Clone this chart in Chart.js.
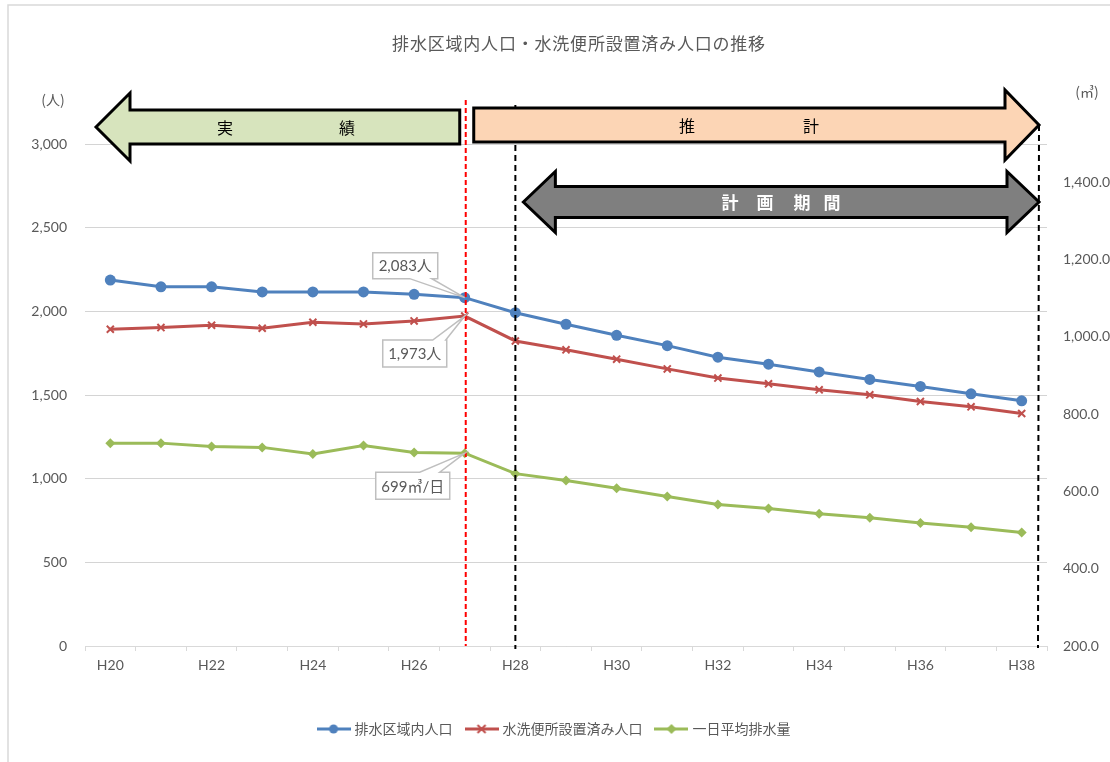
<!DOCTYPE html>
<html lang="ja">
<head>
<meta charset="utf-8">
<title>排水区域内人口・水洗便所設置済み人口の推移</title>
<script src="https://cdn.jsdelivr.net/npm/chart.js@4.4.1/dist/chart.umd.min.js"></script>
<style>
  html, body { margin: 0; padding: 0; background: #fff; }
  #wrap { position: relative; width: 1110px; height: 762px; }
</style>
</head>
<body>
<div id="wrap"><canvas id="trendChart"></canvas></div>
<script>
// ---- data ----
const years = ['H20', 'H21', 'H22', 'H23', 'H24', 'H25', 'H26', 'H27', 'H28', 'H29',
  'H30', 'H31', 'H32', 'H33', 'H34', 'H35', 'H36', 'H37', 'H38'];
// 排水区域内人口 (人)
const areaPopulation = [2188, 2148, 2148, 2117, 2117, 2117, 2103, 2083, 1993, 1924,
  1858, 1796, 1727, 1685, 1639, 1594, 1552, 1508, 1466];
// 水洗便所設置済み人口 (人)
const flushPopulation = [1894, 1904, 1918, 1900, 1936, 1926, 1944, 1973, 1824, 1771,
  1715, 1657, 1602, 1568, 1532, 1502, 1462, 1430, 1390];
// 一日平均排水量 (㎥)
const dailyFlow = [725, 725, 716, 714, 697, 719, 701, 699, 646, 628,
  608, 587, 566, 556, 542, 532, 518, 507, 494];

const seriesNames = ['排水区域内人口', '水洗便所設置済み人口', '一日平均排水量'];
const leftTicks = [0, 500, 1000, 1500, 2000, 2500, 3000];
const rightTicks = [200, 400, 600, 800, 1000, 1200, 1400];
const lastActualIndex = 7;   // H27
const firstPlanIndex = 8;    // H28

const FONT = "Lato, 'Noto Sans CJK JP', sans-serif";
const JP = "'Noto Sans CJK JP', sans-serif";
const GREY = '#595959';
const colors = ['#4f81bd', '#c0504d', '#9bbb59'];

// small legend icons: line with marker
function legendIcon(color, marker) {
  const c = document.createElement('canvas');
  c.width = 34; c.height = 12;
  const g = c.getContext('2d');
  g.strokeStyle = color; g.fillStyle = color; g.lineWidth = 3;
  g.beginPath(); g.moveTo(0, 6); g.lineTo(34, 6); g.stroke();
  if (marker === 'circle') {
    g.beginPath(); g.arc(17, 6, 4.5, 0, Math.PI * 2); g.fill();
  } else if (marker === 'cross') {
    g.lineWidth = 2;
    g.beginPath(); g.moveTo(13, 2); g.lineTo(21, 10); g.moveTo(21, 2); g.lineTo(13, 10); g.stroke();
  } else {
    g.beginPath(); g.moveTo(17, 1); g.lineTo(22, 6); g.lineTo(17, 11); g.lineTo(12, 6); g.closePath(); g.fill();
  }
  return c;
}
const icons = [legendIcon(colors[0], 'circle'), legendIcon(colors[1], 'cross'), legendIcon(colors[2], 'diamond')];

// arrow helpers
function arrow(ctx, x0, x1, cy, bh, hh, hl, dir, fill) {
  ctx.beginPath();
  if (dir === 'left') {
    ctx.moveTo(x0, cy);
    ctx.lineTo(x0 + hl, cy - hh); ctx.lineTo(x0 + hl, cy - bh);
    ctx.lineTo(x1, cy - bh); ctx.lineTo(x1, cy + bh);
    ctx.lineTo(x0 + hl, cy + bh); ctx.lineTo(x0 + hl, cy + hh);
  } else if (dir === 'right') {
    ctx.moveTo(x0, cy - bh);
    ctx.lineTo(x1 - hl, cy - bh); ctx.lineTo(x1 - hl, cy - hh);
    ctx.lineTo(x1, cy);
    ctx.lineTo(x1 - hl, cy + hh); ctx.lineTo(x1 - hl, cy + bh);
    ctx.lineTo(x0, cy + bh);
  } else {
    ctx.moveTo(x0, cy);
    ctx.lineTo(x0 + hl, cy - hh); ctx.lineTo(x0 + hl, cy - bh);
    ctx.lineTo(x1 - hl, cy - bh); ctx.lineTo(x1 - hl, cy - hh);
    ctx.lineTo(x1, cy);
    ctx.lineTo(x1 - hl, cy + hh); ctx.lineTo(x1 - hl, cy + bh);
    ctx.lineTo(x0 + hl, cy + bh); ctx.lineTo(x0 + hl, cy + hh);
  }
  ctx.closePath();
  ctx.fillStyle = fill;
  ctx.fill();
  ctx.lineWidth = 3;
  ctx.lineJoin = 'miter';
  ctx.strokeStyle = '#000';
  ctx.stroke();
}

// callout: box with a wedge pointing at (tx, ty)
function callout(ctx, bx, by, bw, bh, side, w1, w2, tx, ty, text) {
  ctx.beginPath();
  ctx.moveTo(bx, by);
  if (side === 'top') {
    ctx.lineTo(w1, by); ctx.lineTo(tx, ty); ctx.lineTo(w2, by);
  }
  ctx.lineTo(bx + bw, by);
  ctx.lineTo(bx + bw, by + bh);
  if (side === 'bottom') {
    ctx.lineTo(w2, by + bh); ctx.lineTo(tx, ty); ctx.lineTo(w1, by + bh);
  }
  ctx.lineTo(bx, by + bh);
  ctx.closePath();
  ctx.fillStyle = '#fff';
  ctx.fill();
  ctx.lineWidth = 1.5;
  ctx.strokeStyle = '#bfbfbf';
  ctx.stroke();
  ctx.fillStyle = GREY;
  ctx.font = '15px ' + FONT;
  ctx.textAlign = 'center';
  ctx.textBaseline = 'middle';
  ctx.fillText(text, bx + bw / 2, by + bh / 2 + 1);
}

const overlayPlugin = {
  id: 'overlay',
  beforeDraw(chart) {
    const ctx = chart.ctx;
    ctx.save();
    ctx.strokeStyle = '#d9d9d9';
    ctx.lineWidth = 1.5;
    ctx.strokeRect(8, 5, 1200, 900);
    ctx.restore();
  },
  afterDatasetsDraw(chart) {
    const ctx = chart.ctx;
    const area = chart.chartArea;
    const xs = chart.scales.x;
    const x27 = xs.getPixelForValue(lastActualIndex);
    const x28 = xs.getPixelForValue(firstPlanIndex);
    const rightEnd = area.right - 8;
    ctx.save();

    // title
    ctx.fillStyle = GREY;
    ctx.font = '17px ' + JP;
    ctx.textAlign = 'center';
    ctx.textBaseline = 'middle';
    if ('letterSpacing' in ctx) ctx.letterSpacing = '0.8px';
    ctx.fillText('排水区域内人口・水洗便所設置済み人口の推移', 579, 44);
    if ('letterSpacing' in ctx) ctx.letterSpacing = '0px';

    // axis units
    ctx.font = '14px ' + JP;
    ctx.fillText('(人)', 53, 100);
    ctx.fillText('(㎥)', 1087, 92);

    // dashed guide lines
    ctx.lineWidth = 2;
    ctx.setLineDash([5, 3]);
    ctx.strokeStyle = '#ff0000';
    ctx.beginPath(); ctx.moveTo(x27 + 1, area.top - 5); ctx.lineTo(x27 + 1, area.bottom); ctx.stroke();
    ctx.setLineDash([6, 4]);
    ctx.strokeStyle = '#000';
    ctx.beginPath(); ctx.moveTo(x28, area.top); ctx.lineTo(x28, area.bottom + 3); ctx.stroke();
    ctx.beginPath(); ctx.moveTo(rightEnd, area.top + 20); ctx.lineTo(rightEnd - 1, area.bottom + 2); ctx.stroke();
    ctx.setLineDash([]);

    // arrows
    arrow(ctx, area.left + 11, x27 - 5, area.top + 22, 17, 34, 34, 'left', '#d7e4bd');
    arrow(ctx, x27 + 9, rightEnd, area.top + 20, 17, 35, 34, 'right', '#fcd5b5');
    arrow(ctx, x28 + 8, rightEnd, area.top + 97, 15.5, 30.5, 32, 'both', '#7f7f7f');

    ctx.fillStyle = '#000';
    ctx.font = '16px ' + JP;
    ctx.textAlign = 'center';
    ctx.fillText('実', 225, area.top + 23);
    ctx.fillText('績', 347, area.top + 23);
    ctx.fillText('推', 687, area.top + 21);
    ctx.fillText('計', 811, area.top + 21);
    ctx.fillStyle = '#fff';
    ctx.font = 'bold 17px ' + JP;
    ['計', '画', '期', '間'].forEach((ch, i) => ctx.fillText(ch, [730, 765, 802, 832][i], area.top + 98));

    // callouts at H27
    const p0 = chart.getDatasetMeta(0).data[lastActualIndex];
    const p1 = chart.getDatasetMeta(1).data[lastActualIndex];
    const p2 = chart.getDatasetMeta(2).data[lastActualIndex];
    callout(ctx, p0.x - 92, p0.y - 45, 65, 26, 'bottom', p0.x - 55, p0.x - 33, p0.x, p0.y,
      areaPopulation[lastActualIndex].toLocaleString('en-US') + '人');
    callout(ctx, p1.x - 82, p1.y + 24, 64, 27, 'top', p1.x - 32, p1.x - 19, p1.x, p1.y,
      flushPopulation[lastActualIndex].toLocaleString('en-US') + '人');
    callout(ctx, p2.x - 89, p2.y + 19, 74, 27, 'top', p2.x - 45, p2.x - 25, p2.x, p2.y,
      dailyFlow[lastActualIndex] + '㎥/日');
    ctx.restore();
  }
};

new Chart(document.getElementById('trendChart'), {
  type: 'line',
  data: {
    labels: years,
    datasets: [
      {
        label: seriesNames[0], data: areaPopulation, yAxisID: 'y',
        borderColor: colors[0], backgroundColor: colors[0], borderWidth: 3,
        pointStyle: 'circle', pointRadius: 5.5, pointBorderWidth: 0, tension: 0
      },
      {
        label: seriesNames[1], data: flushPopulation, yAxisID: 'y',
        borderColor: colors[1], backgroundColor: colors[1], borderWidth: 3,
        pointStyle: 'crossRot', pointRadius: 5, pointBorderWidth: 2, tension: 0
      },
      {
        label: seriesNames[2], data: dailyFlow, yAxisID: 'y1',
        borderColor: colors[2], backgroundColor: colors[2], borderWidth: 3,
        pointStyle: 'rectRot', pointRadius: 5, pointBorderWidth: 0, tension: 0
      }
    ]
  },
  options: {
    responsive: true,
    maintainAspectRatio: false,
    animation: false,
    layout: { padding: { top: 105, left: 0, right: 0, bottom: 16 } },
    plugins: {
      title: { display: false },
      tooltip: { enabled: false },
      legend: {
        position: 'bottom',
        labels: {
          usePointStyle: true,
          pointStyleWidth: 28,
          padding: 15,
          color: GREY,
          font: { size: 14, family: FONT },
          generateLabels(chart) {
            const items = Chart.defaults.plugins.legend.labels.generateLabels(chart);
            items.forEach((it, i) => { it.pointStyle = icons[i]; });
            return items;
          }
        }
      }
    },
    scales: {
      x: {
        offset: true,
        grid: { display: true, offset: true, drawOnChartArea: false, drawTicks: true, tickLength: 5, color: '#d9d9d9' },
        border: { display: true, color: '#d9d9d9' },
        ticks: {
          autoSkip: false, maxRotation: 0, padding: 6, color: GREY,
          font: { size: 14, family: FONT },
          callback: (v, i) => (i % 2 === 0 ? years[i] : '')
        },
        afterFit: (s) => { s.height = 61; }
      },
      y: {
        position: 'left',
        min: 0, max: 3235,
        grid: { display: true, drawOnChartArea: true, color: '#d4d4d4', lineWidth: 1, drawTicks: false },
        border: { display: false },
        ticks: { stepSize: 500, padding: 18, color: GREY, font: { size: 14, family: FONT } },
        afterBuildTicks: (s) => { s.ticks = leftTicks.map(v => ({ value: v })); },
        afterFit: (s) => { s.width = 85; }
      },
      y1: {
        position: 'right',
        min: 200, max: 1600,
        grid: { display: false, drawTicks: false },
        border: { display: false },
        ticks: {
          stepSize: 200, padding: 16, color: GREY, font: { size: 14, family: FONT },
          callback: (v) => v.toLocaleString('en-US', { minimumFractionDigits: 1, maximumFractionDigits: 1 })
        },
        afterBuildTicks: (s) => { s.ticks = rightTicks.map(v => ({ value: v })); },
        afterFit: (s) => { s.width = 63; }
      }
    }
  },
  plugins: [overlayPlugin]
});
</script>
</body>
</html>
